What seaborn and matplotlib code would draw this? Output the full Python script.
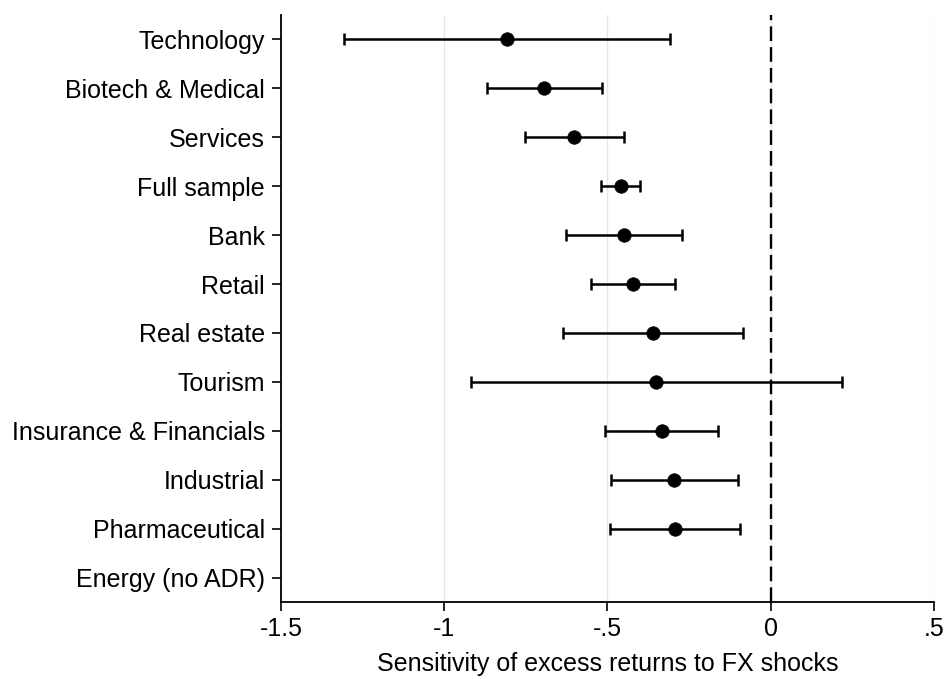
import numpy as np
import pandas as pd
import seaborn as sns
import matplotlib.pyplot as plt

# Sector estimates and 95% CI
sectors = ['Technology', 'Biotech & Medical', 'Services', 'Full sample', 'Bank',
           'Retail', 'Real estate', 'Tourism', 'Insurance & Financials',
           'Industrial', 'Pharmaceutical', 'Energy (no ADR)']
estimate = [-0.808, -0.695, -0.602, -0.459, -0.450, -0.421, -0.360, -0.350,
            -0.334, -0.295, -0.293, np.nan]
ci_low = [-1.307, -0.870, -0.754, -0.519, -0.626, -0.549, -0.636, -0.919,
          -0.507, -0.490, -0.493, np.nan]
ci_high = [-0.310, -0.516, -0.448, -0.399, -0.273, -0.294, -0.085, 0.219,
           -0.160, -0.099, -0.093, np.nan]
xticks = [-1.5, -1, -0.5, 0, 0.5]
xticklabels = ['-1.5', '-1', '-.5', '0', '.5']

df = pd.DataFrame({'sector': sectors, 'est': estimate, 'lo': ci_low, 'hi': ci_high})
df['pos'] = np.arange(len(df))

sns.set_style('white')
plt.rcParams['font.family'] = ['Liberation Sans', 'DejaVu Sans']
plt.rcParams['text.color'] = 'black'
plt.rcParams['xtick.color'] = 'black'
plt.rcParams['ytick.color'] = 'black'
plt.rcParams['axes.labelcolor'] = 'black'

fig = plt.figure(figsize=(9.46, 6.79), dpi=100)
ax = fig.add_axes([0.297, 0.1134, 0.6903, 0.8645])

# light vertical grid
for xt in xticks:
    ax.axvline(xt, color='#e6e6e6', lw=1.0, zorder=0)

ax.axvline(0, color='black', lw=1.7, dashes=(6.2, 2.6), zorder=1)

ok = df.dropna()
ax.errorbar(ok['est'], ok['pos'], xerr=[ok['est'] - ok['lo'], ok['hi'] - ok['est']],
            fmt='none', ecolor='black', elinewidth=1.8, capsize=4.6, capthick=1.8, zorder=2)
sns.scatterplot(data=ok, x='est', y='pos', color='black', s=95, edgecolor='black',
                linewidth=0.5, zorder=3, ax=ax, legend=False)

ax.set_xlim(-1.5, 0.5)
ax.set_ylim(len(sectors) - 0.5, -0.5)
ax.set_xticks(xticks)
ax.set_xticklabels(xticklabels, fontsize=18)
ax.set_yticks(df['pos'])
ax.set_yticklabels(sectors, fontsize=18)
ax.set_xlabel('Sensitivity of excess returns to FX shocks', fontsize=18, labelpad=8)
ax.set_ylabel('')

sns.despine(ax=ax)
for sp in ['left', 'bottom']:
    ax.spines[sp].set_linewidth(1.3)
    ax.spines[sp].set_color('black')
ax.tick_params(axis='both', direction='out', length=6.5, width=1.2, color='black',
               left=True, bottom=True)
ax.tick_params(axis='y', pad=5)
ax.tick_params(axis='x', pad=4)

fig.savefig('out.png', dpi=100)
